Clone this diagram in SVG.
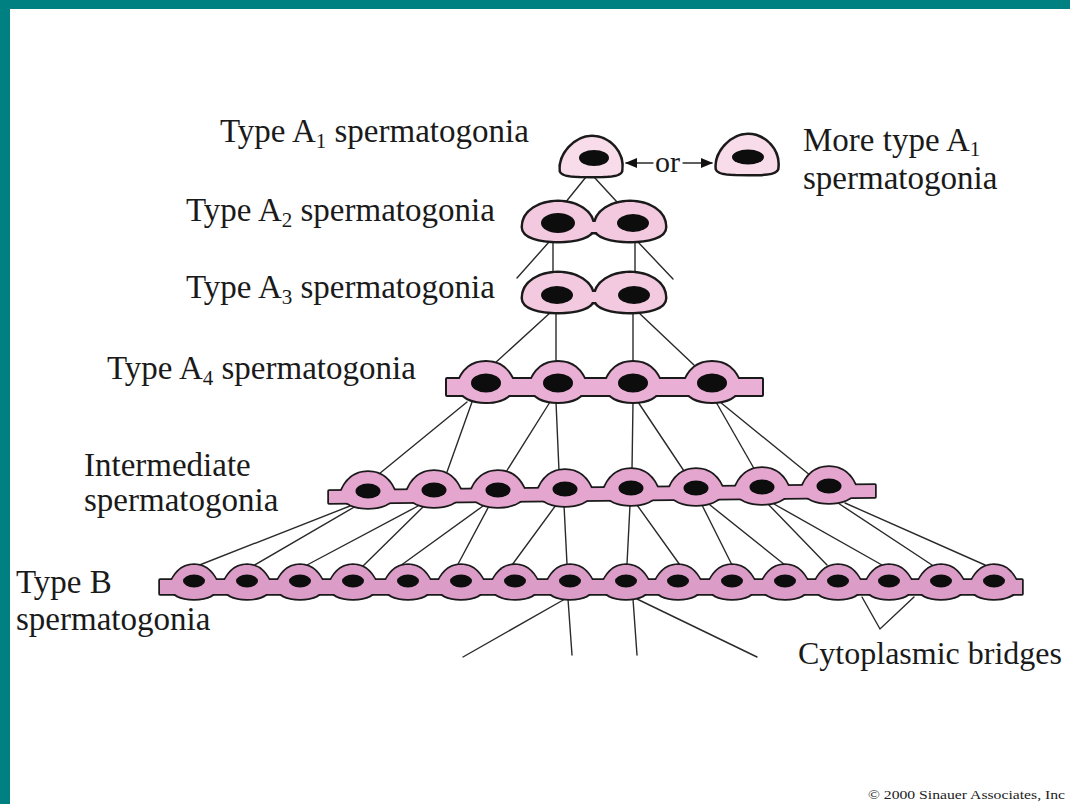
<svg xmlns="http://www.w3.org/2000/svg" xmlns:xlink="http://www.w3.org/1999/xlink" width="1070" height="804" viewBox="0 0 1070 804">
  <style>
    .lbl { font-family: "Liberation Serif", "Times New Roman", serif; font-size: 33px; fill: #1a1a1a; }
    .sub { font-size: 21px; }
    .conn { stroke: #2a2a2a; stroke-width: 1.4; fill: none; stroke-linecap: round; }
    .ol { stroke: #1a1a1a; stroke-linejoin: round; }
    .fl { stroke: none; }
    .nuc { fill: #0d0d0d; }
    .r1 { fill: #f8dcea; }
    .r2 { fill: #f2c9df; }
    .r4 { fill: #eaafd4; }
    .r5 { fill: #e4a6cf; }
    .r6 { fill: #db9dc8; }
  </style>
  <defs>
    <!-- cell outlines, centred on the nucleus -->
    <path id="cellA1" d="M-31,13 C-33,-3 -17,-21 0,-21 C17,-21 32,-5 29,13 C27,18 14,18 0,18 C-16,18 -29,18 -31,13 Z"/>
    <path id="cellPair" d="M-35,4 C-35,-12 -18,-21 0,-21 C18,-21 35,-12 35,4 C35,14 18,18 0,18 C-18,18 -35,14 -35,4 Z"/>
    <path id="cellA4" d="M-29,3 C-25,-10 -17,-21 0,-21 C17,-21 25,-10 29,3 C25,14 14,19 0,19 C-14,19 -25,14 -29,3 Z"/>
    <path id="cellInt" d="M-28,4 C-24,-8 -16,-19 0,-19 C16,-19 24,-8 28,4 C24,13 12,17 0,17 C-12,17 -24,13 -28,4 Z"/>
    <path id="cellB" d="M-25,5 C-20,-6 -14,-16 0,-16 C14,-16 20,-6 25,5 C22,14 12,18 0,18 C-12,18 -22,14 -25,5 Z"/>
    <marker id="arr" viewBox="0 0 12 10" refX="11" refY="5" markerWidth="12" markerHeight="10" markerUnits="userSpaceOnUse" orient="auto">
      <path d="M0,0 L12,5 L0,10 Z" fill="#111"/>
    </marker>
  </defs>

  <!-- page frame -->
  <rect x="0" y="0" width="1070" height="804" fill="#ffffff"/>
  <rect x="0" y="0" width="1070" height="9" fill="#008080"/>
  <rect x="0" y="0" width="10" height="804" fill="#008080"/>

  <!-- division lines between generations -->
  <g id="connectors" class="conn">
    <path d="M586,177 L565,203"/>
    <path d="M594,177 L617,202"/>

    <path d="M549,242 L517,278"/>
    <path d="M553,242 L553,274"/>
    <path d="M635,242 L635,274"/>
    <path d="M638,242 L673,279"/>

    <path d="M551,312 L494,364"/>
    <path d="M556,312 L556,363"/>
    <path d="M633,312 L633,363"/>
    <path d="M638,312 L694,365"/>

    <path d="M467,402 L379,474"/>
    <path d="M472,402 L447,472"/>
    <path d="M550,402 L506,472"/>
    <path d="M556,402 L559,471"/>
    <path d="M633,402 L632,470"/>
    <path d="M638,402 L684,471"/>
    <path d="M716,402 L756,472"/>
    <path d="M720,402 L811,476"/>

    <path d="M350,506 L197,566"/>
    <path d="M356,506 L253,566"/>
    <path d="M418,506 L307,565"/>
    <path d="M424,506 L363,566"/>
    <path d="M483,506 L400,566"/>
    <path d="M489,506 L457,566"/>
    <path d="M556,505 L512,565"/>
    <path d="M564,505 L567,564"/>
    <path d="M630,505 L627,564"/>
    <path d="M637,505 L680,565"/>
    <path d="M702,505 L732,565"/>
    <path d="M710,505 L785,565"/>
    <path d="M768,504 L827,565"/>
    <path d="M774,504 L882,565"/>
    <path d="M838,503 L932,565"/>
    <path d="M845,503 L985,565"/>

    <path d="M565,599 L463,657"/>
    <path d="M568,599 L572,655"/>
    <path d="M633,599 L637,655"/>
    <path d="M637,599 L757,657"/>

    <!-- either / or arrows -->
    <path d="M653,163 L626,163" marker-end="url(#arr)"/>
    <path d="M683,163 L712,163" marker-end="url(#arr)"/>
  </g>

  <!-- Type A1 -->
  <g id="typeA1">
    <use xlink:href="#cellA1" x="592" y="158" class="ol r1" stroke-width="5"/>
    <use xlink:href="#cellA1" x="592" y="158" class="fl r1"/>
    <ellipse class="nuc" cx="594" cy="158" rx="15" ry="8"/>
  </g>

  <g id="typeA1-more">
    <use xlink:href="#cellA1" x="748" y="156" class="ol r1" stroke-width="5"/>
    <use xlink:href="#cellA1" x="748" y="156" class="fl r1"/>
    <ellipse class="nuc" cx="748" cy="157" rx="16" ry="7.5"/>
  </g>

  <!-- Type A2 -->
  <g id="typeA2">
    <g class="ol r2" stroke-width="5">
      <use xlink:href="#cellPair" x="558" y="223"/>
      <use xlink:href="#cellPair" x="630" y="223"/>
      <rect x="582" y="222" width="24" height="10"/>
    </g>
    <g class="fl r2">
      <use xlink:href="#cellPair" x="558" y="223"/>
      <use xlink:href="#cellPair" x="630" y="223"/>
      <rect x="582" y="222" width="24" height="10"/>
    </g>
    <ellipse class="nuc" cx="558" cy="223" rx="17" ry="10"/>
    <ellipse class="nuc" cx="633" cy="223" rx="16" ry="9"/>
  </g>

  <!-- Type A3 -->
  <g id="typeA3">
    <g class="ol r2" stroke-width="5">
      <use xlink:href="#cellPair" x="558" y="294"/>
      <use xlink:href="#cellPair" x="630" y="294"/>
      <rect x="582" y="292" width="24" height="10"/>
    </g>
    <g class="fl r2">
      <use xlink:href="#cellPair" x="558" y="294"/>
      <use xlink:href="#cellPair" x="630" y="294"/>
      <rect x="582" y="292" width="24" height="10"/>
    </g>
    <ellipse class="nuc" cx="557" cy="295" rx="16" ry="9"/>
    <ellipse class="nuc" cx="634" cy="295" rx="16" ry="9"/>
  </g>

  <!-- Type A4 -->
  <g id="typeA4">
    <g class="ol r4" stroke-width="4">
      <rect x="447" y="379" width="315" height="16"/>
      <use xlink:href="#cellA4" x="486" y="383"/>
      <use xlink:href="#cellA4" x="558" y="383"/>
      <use xlink:href="#cellA4" x="633" y="383"/>
      <use xlink:href="#cellA4" x="712" y="383"/>
    </g>
    <g class="fl r4">
      <rect x="447" y="379" width="315" height="16"/>
      <use xlink:href="#cellA4" x="486" y="383"/>
      <use xlink:href="#cellA4" x="558" y="383"/>
      <use xlink:href="#cellA4" x="633" y="383"/>
      <use xlink:href="#cellA4" x="712" y="383"/>
    </g>
    <g class="nuc">
      <ellipse cx="486" cy="383" rx="15" ry="9.5"/>
      <ellipse cx="558" cy="383" rx="15" ry="9.5"/>
      <ellipse cx="633" cy="383" rx="15" ry="9.5"/>
      <ellipse cx="712" cy="383" rx="15" ry="9.5"/>
    </g>
  </g>

  <!-- Intermediate -->
  <g id="intermediate">
    <g class="ol r5" stroke-width="3.5">
      <polygon points="329,491 875,485 875,497 329,503"/>
      <use xlink:href="#cellInt" x="368" y="491"/>
      <use xlink:href="#cellInt" x="434" y="490"/>
      <use xlink:href="#cellInt" x="498" y="490"/>
      <use xlink:href="#cellInt" x="565" y="489"/>
      <use xlink:href="#cellInt" x="631" y="488"/>
      <use xlink:href="#cellInt" x="696" y="488"/>
      <use xlink:href="#cellInt" x="762" y="487"/>
      <use xlink:href="#cellInt" x="829" y="486"/>
    </g>
    <g class="fl r5">
      <polygon points="329,491 875,485 875,497 329,503"/>
      <use xlink:href="#cellInt" x="368" y="491"/>
      <use xlink:href="#cellInt" x="434" y="490"/>
      <use xlink:href="#cellInt" x="498" y="490"/>
      <use xlink:href="#cellInt" x="565" y="489"/>
      <use xlink:href="#cellInt" x="631" y="488"/>
      <use xlink:href="#cellInt" x="696" y="488"/>
      <use xlink:href="#cellInt" x="762" y="487"/>
      <use xlink:href="#cellInt" x="829" y="486"/>
    </g>
    <g class="nuc">
      <ellipse cx="368" cy="491" rx="12.5" ry="7.5"/>
      <ellipse cx="434" cy="490" rx="12.5" ry="7.5"/>
      <ellipse cx="498" cy="490" rx="12.5" ry="7.5"/>
      <ellipse cx="565" cy="489" rx="12.5" ry="7.5"/>
      <ellipse cx="631" cy="488" rx="12.5" ry="7.5"/>
      <ellipse cx="696" cy="488" rx="12.5" ry="7.5"/>
      <ellipse cx="762" cy="487" rx="12.5" ry="7.5"/>
      <ellipse cx="829" cy="486" rx="12.5" ry="7.5"/>
    </g>
  </g>

  <!-- Type B -->
  <g id="typeB">
    <g class="ol r6" stroke-width="3.5">
      <rect x="160" y="580" width="862" height="14"/>
      <use xlink:href="#cellB" x="194" y="581"/>
      <use xlink:href="#cellB" x="247" y="581"/>
      <use xlink:href="#cellB" x="300" y="581"/>
      <use xlink:href="#cellB" x="353" y="581"/>
      <use xlink:href="#cellB" x="408" y="581"/>
      <use xlink:href="#cellB" x="461" y="581"/>
      <use xlink:href="#cellB" x="515" y="581"/>
      <use xlink:href="#cellB" x="570" y="581"/>
      <use xlink:href="#cellB" x="626" y="581"/>
      <use xlink:href="#cellB" x="678" y="581"/>
      <use xlink:href="#cellB" x="732" y="581"/>
      <use xlink:href="#cellB" x="785" y="581"/>
      <use xlink:href="#cellB" x="838" y="581"/>
      <use xlink:href="#cellB" x="889" y="581"/>
      <use xlink:href="#cellB" x="941" y="581"/>
      <use xlink:href="#cellB" x="994" y="581"/>
    </g>
    <g class="fl r6">
      <rect x="160" y="580" width="862" height="14"/>
      <use xlink:href="#cellB" x="194" y="581"/>
      <use xlink:href="#cellB" x="247" y="581"/>
      <use xlink:href="#cellB" x="300" y="581"/>
      <use xlink:href="#cellB" x="353" y="581"/>
      <use xlink:href="#cellB" x="408" y="581"/>
      <use xlink:href="#cellB" x="461" y="581"/>
      <use xlink:href="#cellB" x="515" y="581"/>
      <use xlink:href="#cellB" x="570" y="581"/>
      <use xlink:href="#cellB" x="626" y="581"/>
      <use xlink:href="#cellB" x="678" y="581"/>
      <use xlink:href="#cellB" x="732" y="581"/>
      <use xlink:href="#cellB" x="785" y="581"/>
      <use xlink:href="#cellB" x="838" y="581"/>
      <use xlink:href="#cellB" x="889" y="581"/>
      <use xlink:href="#cellB" x="941" y="581"/>
      <use xlink:href="#cellB" x="994" y="581"/>
    </g>
    <g class="nuc">
      <ellipse cx="194" cy="581" rx="11" ry="6.5"/>
      <ellipse cx="247" cy="581" rx="11" ry="6.5"/>
      <ellipse cx="300" cy="581" rx="11" ry="6.5"/>
      <ellipse cx="353" cy="581" rx="11" ry="6.5"/>
      <ellipse cx="408" cy="581" rx="11" ry="6.5"/>
      <ellipse cx="461" cy="581" rx="11" ry="6.5"/>
      <ellipse cx="515" cy="581" rx="11" ry="6.5"/>
      <ellipse cx="570" cy="581" rx="11" ry="6.5"/>
      <ellipse cx="626" cy="581" rx="11" ry="6.5"/>
      <ellipse cx="678" cy="581" rx="11" ry="6.5"/>
      <ellipse cx="732" cy="581" rx="11" ry="6.5"/>
      <ellipse cx="785" cy="581" rx="11" ry="6.5"/>
      <ellipse cx="838" cy="581" rx="11" ry="6.5"/>
      <ellipse cx="889" cy="581" rx="11" ry="6.5"/>
      <ellipse cx="941" cy="581" rx="11" ry="6.5"/>
      <ellipse cx="994" cy="581" rx="11" ry="6.5"/>
    </g>
  </g>

  <!-- pointer to the bridges -->
  <g id="bridge-pointer">
    <path class="conn" d="M862,597 L880,629 L914,597"/>
  </g>

  <!-- labels -->
  <g id="labels" class="lbl">
    <text x="220" y="142">Type A<tspan class="sub" dy="6">1</tspan><tspan dy="-6"> spermatogonia</tspan></text>
    <text x="803" y="151">More type A<tspan class="sub" dy="5">1</tspan></text>
    <text x="803" y="189">spermatogonia</text>
    <text x="186" y="221">Type A<tspan class="sub" dy="6">2</tspan><tspan dy="-6"> spermatogonia</tspan></text>
    <text x="186" y="298">Type A<tspan class="sub" dy="6">3</tspan><tspan dy="-6"> spermatogonia</tspan></text>
    <text x="107" y="379">Type A<tspan class="sub" dy="6">4</tspan><tspan dy="-6"> spermatogonia</tspan></text>
    <text x="84" y="476">Intermediate</text>
    <text x="84" y="511">spermatogonia</text>
    <text x="16" y="593">Type B</text>
    <text x="16" y="630">spermatogonia</text>
    <text x="798" y="664" font-size="32">Cytoplasmic bridges</text>
    <text x="655" y="172" font-size="30">or</text>
  </g>

  <text id="credit" x="868" y="799" font-family="Liberation Serif, serif" font-size="12.5" fill="#222" textLength="197" lengthAdjust="spacingAndGlyphs">© 2000 Sinauer Associates, Inc</text>
</svg>
